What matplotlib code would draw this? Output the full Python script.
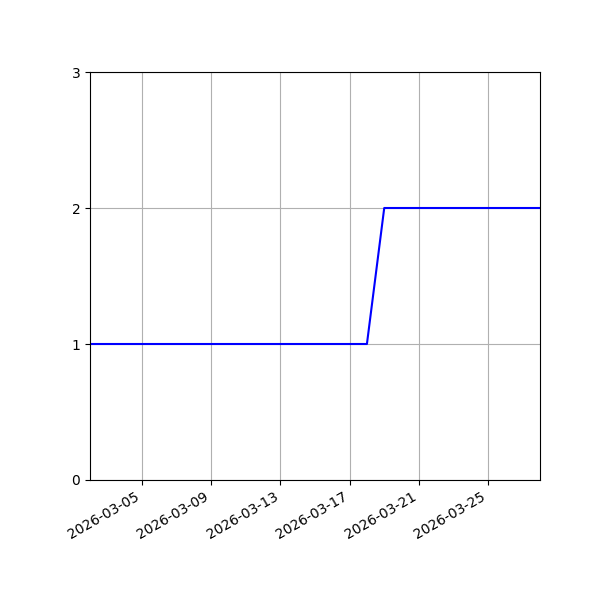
import matplotlib
matplotlib.use('Agg')
import matplotlib.pyplot as plt
import pandas as pd

# daily values
dates = pd.date_range('2026-03-02', '2026-03-28', freq='D')
values = [1] * 17 + [2] * 10

fig, ax = plt.subplots(figsize=(6, 6), dpi=100)
ax.plot(dates, values, color='blue')
ax.set_xlim(dates[0], dates[-1])
ax.set_ylim(0, 3)
ax.set_yticks([0, 1, 2, 3])
ax.grid(True)
fig.autofmt_xdate()
fig.subplots_adjust(left=0.15, right=0.9, top=0.88, bottom=0.2)
fig.savefig('out.png')
